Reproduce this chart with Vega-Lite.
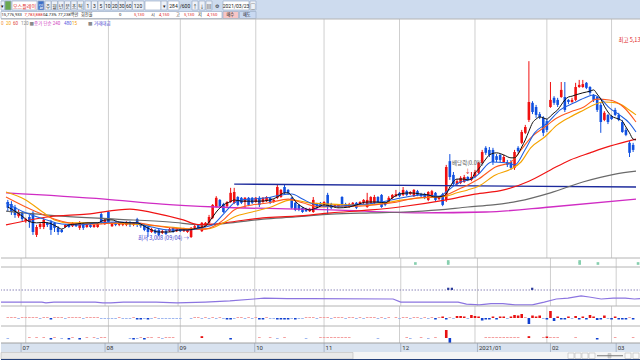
{
"$schema":"https://vega.github.io/schema/vega-lite/v6.json",
"padding":0,"bounds":"flush","spacing":0,"background":"#ffffff",
"config":{"view":{"stroke":null},"text":{"font":"Noto Sans CJK KR"}},
"datasets":{
"months":[{"t":5,"m":"07"},{"t":28,"m":"08"},{"t":48,"m":"09"},{"t":69,"m":"10"},{"t":88,"m":"11"},{"t":109,"m":"12"},{"t":130,"m":"2021/01"},{"t":150,"m":"02"},{"t":168,"m":"03"}],
"candles":[
{"t":0,"o":3440,"h":3465,"l":3320,"c":3370,"a":1,"b":-1},
{"t":1,"o":3415,"h":3450,"l":3285,"c":3320,"a":1,"b":0},
{"t":2,"o":3380,"h":3405,"l":3250,"c":3285,"a":1,"b":0},
{"t":3,"o":3270,"h":3345,"l":3250,"c":3320,"a":-1,"b":0},
{"t":4,"o":3310,"h":3330,"l":3210,"c":3235,"a":1,"b":0},
{"t":5,"o":3210,"h":3250,"l":3190,"c":3235,"a":1,"b":0},
{"t":6,"o":3260,"h":3285,"l":3130,"c":3200,"a":1,"b":1},
{"t":7,"o":3310,"h":3330,"l":3045,"c":3080,"a":1,"b":0},
{"t":8,"o":3045,"h":3165,"l":3020,"c":3140,"a":1,"b":1},
{"t":9,"o":3140,"h":3200,"l":3115,"c":3175,"a":-1,"b":0},
{"t":10,"o":3140,"h":3250,"l":3115,"c":3225,"a":1,"b":1},
{"t":11,"o":3190,"h":3200,"l":3140,"c":3165,"a":1,"b":0},
{"t":12,"o":3200,"h":3225,"l":3045,"c":3105,"a":-1.5,"b":-1.5},
{"t":13,"o":3190,"h":3200,"l":3080,"c":3130,"a":1,"b":1},
{"t":14,"o":3130,"h":3150,"l":3045,"c":3080,"a":1,"b":0},
{"t":15,"o":3105,"h":3115,"l":3070,"c":3080,"a":1,"b":-1},
{"t":16,"o":3140,"h":3175,"l":3130,"c":3165,"a":-1,"b":0},
{"t":17,"o":3165,"h":3175,"l":3130,"c":3140,"a":1,"b":-1.5},
{"t":18,"o":3150,"h":3200,"l":3140,"c":3190,"a":1,"b":1},
{"t":19,"o":3175,"h":3190,"l":3140,"c":3150,"a":1,"b":0},
{"t":20,"o":3130,"h":3210,"l":3105,"c":3190,"a":1,"b":-1.5},
{"t":21,"o":3175,"h":3190,"l":3105,"c":3130,"a":-1,"b":0},
{"t":22,"o":3140,"h":3190,"l":3130,"c":3175,"a":1,"b":1},
{"t":23,"o":3165,"h":3175,"l":3130,"c":3140,"a":1,"b":0},
{"t":24,"o":3140,"h":3175,"l":3130,"c":3165,"a":1,"b":1},
{"t":25,"o":3140,"h":3190,"l":3130,"c":3175,"a":1,"b":-1},
{"t":26,"o":3295,"h":3320,"l":3175,"c":3200,"a":-1,"b":1},
{"t":27,"o":3175,"h":3235,"l":3165,"c":3225,"a":-1,"b":1},
{"t":28,"o":3320,"h":3330,"l":3175,"c":3200,"a":-1,"b":0},
{"t":29,"o":3150,"h":3200,"l":3140,"c":3190,"a":-1,"b":0},
{"t":30,"o":3200,"h":3210,"l":3150,"c":3165,"a":-1,"b":0},
{"t":31,"o":3165,"h":3200,"l":3150,"c":3190,"a":1,"b":0},
{"t":32,"o":3165,"h":3200,"l":3150,"c":3190,"a":-1,"b":0},
{"t":33,"o":3165,"h":3210,"l":3150,"c":3200,"a":-1,"b":0},
{"t":34,"o":3200,"h":3210,"l":3140,"c":3165,"a":-1,"b":-1},
{"t":35,"o":3165,"h":3200,"l":3150,"c":3190,"a":1,"b":-1.5},
{"t":36,"o":3235,"h":3250,"l":3140,"c":3165,"a":-1.5,"b":-1},
{"t":37,"o":3175,"h":3190,"l":3130,"c":3150,"a":-1.5,"b":1},
{"t":38,"o":3165,"h":3175,"l":3090,"c":3105,"a":-1,"b":-1.5},
{"t":39,"o":3140,"h":3150,"l":3020,"c":3080,"a":-1.5,"b":1},
{"t":40,"o":3080,"h":3130,"l":3070,"c":3115,"a":-1,"b":1},
{"t":41,"o":3105,"h":3115,"l":3055,"c":3070,"a":1,"b":0},
{"t":42,"o":3105,"h":3115,"l":3030,"c":3045,"a":-1,"b":1},
{"t":43,"o":3070,"h":3105,"l":3055,"c":3090,"a":-1,"b":-1},
{"t":44,"o":3090,"h":3105,"l":3045,"c":3055,"a":-1,"b":1},
{"t":45,"o":3090,"h":3130,"l":3080,"c":3115,"a":-1,"b":1},
{"t":46,"o":3130,"h":3140,"l":3070,"c":3080,"a":-1,"b":1},
{"t":47,"o":3090,"h":3130,"l":3080,"c":3115,"a":-1,"b":0},
{"t":48,"o":3115,"h":3130,"l":3080,"c":3090,"a":-1,"b":0},
{"t":49,"o":3090,"h":3130,"l":3080,"c":3115,"a":0,"b":0},
{"t":50,"o":3080,"h":3115,"l":3070,"c":3105,"a":0,"b":0},
{"t":51,"o":3020,"h":3140,"l":3008,"c":3130,"a":-1,"b":0},
{"t":52,"o":3130,"h":3165,"l":3115,"c":3150,"a":1,"b":0},
{"t":53,"o":3165,"h":3175,"l":3115,"c":3130,"a":1,"b":0},
{"t":54,"o":3090,"h":3200,"l":3080,"c":3190,"a":-1,"b":1.8},
{"t":55,"o":3150,"h":3200,"l":3140,"c":3190,"a":1,"b":0},
{"t":56,"o":3190,"h":3285,"l":3175,"c":3260,"a":-1,"b":0},
{"t":57,"o":3250,"h":3415,"l":3235,"c":3405,"a":1,"b":0},
{"t":58,"o":3380,"h":3510,"l":3370,"c":3490,"a":-1,"b":0},
{"t":59,"o":3465,"h":3475,"l":3380,"c":3390,"a":1,"b":0},
{"t":60,"o":3415,"h":3430,"l":3310,"c":3320,"a":-1,"b":0},
{"t":61,"o":3390,"h":3450,"l":3370,"c":3440,"a":-1.5,"b":0},
{"t":62,"o":3440,"h":3610,"l":3430,"c":3550,"a":-1.5,"b":-1.5},
{"t":63,"o":3430,"h":3610,"l":3415,"c":3560,"a":-1,"b":0},
{"t":64,"o":3500,"h":3510,"l":3390,"c":3405,"a":1,"b":0},
{"t":65,"o":3490,"h":3500,"l":3415,"c":3430,"a":1,"b":0},
{"t":66,"o":3440,"h":3500,"l":3370,"c":3490,"a":-1,"b":0},
{"t":67,"o":3490,"h":3500,"l":3390,"c":3405,"a":1,"b":0},
{"t":68,"o":3490,"h":3500,"l":3415,"c":3430,"a":-1,"b":0},
{"t":69,"o":3440,"h":3500,"l":3430,"c":3490,"a":1,"b":0},
{"t":70,"o":3490,"h":3510,"l":3380,"c":3405,"a":-1.5,"b":1},
{"t":71,"o":3440,"h":3500,"l":3430,"c":3490,"a":-1.5,"b":0},
{"t":72,"o":3450,"h":3510,"l":3440,"c":3500,"a":1,"b":0},
{"t":73,"o":3490,"h":3500,"l":3415,"c":3430,"a":-1,"b":1},
{"t":74,"o":3440,"h":3475,"l":3430,"c":3465,"a":-1,"b":0},
{"t":75,"o":3490,"h":3645,"l":3475,"c":3620,"a":-1.5,"b":-1},
{"t":76,"o":3500,"h":3595,"l":3490,"c":3585,"a":-1.5,"b":0},
{"t":77,"o":3620,"h":3655,"l":3535,"c":3550,"a":-1.5,"b":1},
{"t":78,"o":3585,"h":3595,"l":3525,"c":3550,"a":-1.5,"b":0},
{"t":79,"o":3490,"h":3500,"l":3355,"c":3370,"a":-1,"b":0},
{"t":80,"o":3430,"h":3440,"l":3330,"c":3345,"a":-1.5,"b":0},
{"t":81,"o":3405,"h":3415,"l":3330,"c":3345,"a":-1,"b":0},
{"t":82,"o":3370,"h":3380,"l":3310,"c":3320,"a":-1,"b":0},
{"t":83,"o":3355,"h":3370,"l":3320,"c":3330,"a":1,"b":-1},
{"t":84,"o":3330,"h":3370,"l":3320,"c":3355,"a":1,"b":0},
{"t":85,"o":3320,"h":3500,"l":3310,"c":3465,"a":1,"b":0},
{"t":86,"o":3415,"h":3430,"l":3355,"c":3370,"a":-1,"b":0},
{"t":87,"o":3430,"h":3440,"l":3380,"c":3390,"a":1,"b":1},
{"t":88,"o":3405,"h":3450,"l":3390,"c":3440,"a":1,"b":1},
{"t":89,"o":3525,"h":3550,"l":3285,"c":3380,"a":1,"b":1},
{"t":90,"o":3415,"h":3430,"l":3355,"c":3370,"a":-1,"b":1},
{"t":91,"o":3380,"h":3415,"l":3370,"c":3405,"a":1,"b":1},
{"t":92,"o":3380,"h":3415,"l":3370,"c":3405,"a":1,"b":1},
{"t":93,"o":3500,"h":3510,"l":3390,"c":3405,"a":1,"b":1},
{"t":94,"o":3415,"h":3430,"l":3370,"c":3380,"a":-1,"b":1},
{"t":95,"o":3380,"h":3430,"l":3370,"c":3415,"a":1,"b":1},
{"t":96,"o":3390,"h":3440,"l":3380,"c":3430,"a":1,"b":0},
{"t":97,"o":3430,"h":3440,"l":3355,"c":3370,"a":-1,"b":0},
{"t":98,"o":3415,"h":3450,"l":3405,"c":3440,"a":1,"b":0},
{"t":99,"o":3430,"h":3475,"l":3415,"c":3465,"a":-1,"b":0},
{"t":100,"o":3380,"h":3550,"l":3370,"c":3465,"a":1,"b":0},
{"t":101,"o":3430,"h":3510,"l":3415,"c":3500,"a":1,"b":0},
{"t":102,"o":3430,"h":3525,"l":3415,"c":3500,"a":1,"b":0},
{"t":103,"o":3500,"h":3510,"l":3430,"c":3440,"a":-1,"b":-1},
{"t":104,"o":3525,"h":3535,"l":3370,"c":3380,"a":1,"b":0},
{"t":105,"o":3430,"h":3440,"l":3390,"c":3405,"a":-1,"b":0},
{"t":106,"o":3440,"h":3510,"l":3430,"c":3490,"a":1,"b":0},
{"t":107,"o":3490,"h":3535,"l":3475,"c":3525,"a":0,"b":0},
{"t":108,"o":3510,"h":3585,"l":3500,"c":3535,"a":1,"b":0},
{"t":109,"o":3550,"h":3560,"l":3500,"c":3510,"a":-1,"b":0},
{"t":110,"o":3525,"h":3620,"l":3510,"c":3585,"a":1,"b":0},
{"t":111,"o":3570,"h":3585,"l":3510,"c":3525,"a":1,"b":1},
{"t":112,"o":3535,"h":3570,"l":3525,"c":3560,"a":-1,"b":-1},
{"t":113,"o":3510,"h":3595,"l":3500,"c":3585,"a":1,"b":0},
{"t":114,"o":3570,"h":3585,"l":3510,"c":3525,"a":1,"b":0},
{"t":115,"o":3535,"h":3550,"l":3500,"c":3510,"a":-1,"b":1},
{"t":116,"o":3535,"h":3550,"l":3475,"c":3490,"a":1,"b":0},
{"t":117,"o":3465,"h":3570,"l":3450,"c":3560,"a":-1,"b":-1},
{"t":118,"o":3500,"h":3585,"l":3490,"c":3570,"a":1,"b":0},
{"t":119,"o":3550,"h":3560,"l":3450,"c":3465,"a":-1.5,"b":1},
{"t":120,"o":3475,"h":3510,"l":3465,"c":3500,"a":1,"b":0},
{"t":121,"o":3535,"h":3550,"l":3390,"c":3405,"a":1.5,"b":0},
{"t":122,"o":3465,"h":3885,"l":3440,"c":3860,"a":-1.5,"b":8},
{"t":123,"o":3930,"h":4015,"l":3705,"c":3740,"a":1,"b":-6},
{"t":124,"o":3765,"h":3800,"l":3630,"c":3655,"a":-1,"b":0},
{"t":125,"o":3655,"h":3715,"l":3645,"c":3690,"a":2,"b":0},
{"t":126,"o":3670,"h":3750,"l":3655,"c":3730,"a":2,"b":0},
{"t":127,"o":3680,"h":3765,"l":3670,"c":3740,"a":1.5,"b":0},
{"t":128,"o":3740,"h":3750,"l":3690,"c":3705,"a":-1,"b":0},
{"t":129,"o":3705,"h":3800,"l":3690,"c":3740,"a":3,"b":0},
{"t":130,"o":3740,"h":3825,"l":3730,"c":3800,"a":2,"b":0},
{"t":131,"o":3790,"h":3920,"l":3775,"c":3910,"a":1.5,"b":0},
{"t":132,"o":3910,"h":4065,"l":3895,"c":4040,"a":-2.5,"b":0},
{"t":133,"o":4090,"h":4110,"l":4005,"c":4030,"a":-1.5,"b":1},
{"t":134,"o":4065,"h":4100,"l":3980,"c":4005,"a":-1.5,"b":1},
{"t":135,"o":4065,"h":4090,"l":3885,"c":3920,"a":1.5,"b":1},
{"t":136,"o":3990,"h":4015,"l":3920,"c":3945,"a":-1.5,"b":1},
{"t":137,"o":4005,"h":4015,"l":3920,"c":3945,"a":1.5,"b":1},
{"t":138,"o":3920,"h":4005,"l":3910,"c":3980,"a":1.5,"b":1},
{"t":139,"o":3920,"h":3945,"l":3860,"c":3885,"a":-1,"b":1},
{"t":140,"o":3920,"h":3945,"l":3825,"c":3850,"a":1.5,"b":1},
{"t":141,"o":3850,"h":4065,"l":3825,"c":4040,"a":3,"b":1},
{"t":142,"o":4090,"h":4110,"l":4030,"c":4050,"a":2.5,"b":1},
{"t":143,"o":4150,"h":4305,"l":4135,"c":4280,"a":4,"b":0},
{"t":144,"o":4270,"h":4365,"l":4255,"c":4340,"a":1,"b":0},
{"t":145,"o":4425,"h":5130,"l":4400,"c":4640,"a":-6,"b":1.8},
{"t":146,"o":4630,"h":4650,"l":4495,"c":4520,"a":2.5,"b":0},
{"t":147,"o":4580,"h":4605,"l":4450,"c":4485,"a":1.5,"b":0},
{"t":148,"o":4495,"h":4520,"l":4435,"c":4460,"a":2.5,"b":0},
{"t":149,"o":4450,"h":4470,"l":4230,"c":4270,"a":-1,"b":1},
{"t":150,"o":4410,"h":4435,"l":4280,"c":4305,"a":-1.5,"b":1.5},
{"t":151,"o":4580,"h":4880,"l":4570,"c":4665,"a":7,"b":1},
{"t":152,"o":4690,"h":4710,"l":4605,"c":4630,"a":-3,"b":1},
{"t":153,"o":4665,"h":4690,"l":4580,"c":4605,"a":1.5,"b":1},
{"t":154,"o":4700,"h":4880,"l":4690,"c":4785,"a":-1.5,"b":0},
{"t":155,"o":4700,"h":4880,"l":4520,"c":4545,"a":-1.5,"b":0},
{"t":156,"o":4665,"h":4675,"l":4615,"c":4640,"a":1.5,"b":0},
{"t":157,"o":4640,"h":4690,"l":4630,"c":4665,"a":-1,"b":0},
{"t":158,"o":4665,"h":4870,"l":4650,"c":4820,"a":2,"b":1},
{"t":159,"o":4820,"h":4905,"l":4810,"c":4845,"a":-1.5,"b":0},
{"t":160,"o":4820,"h":4905,"l":4810,"c":4855,"a":1.5,"b":0},
{"t":161,"o":4870,"h":4880,"l":4795,"c":4810,"a":-1.5,"b":0},
{"t":162,"o":4820,"h":4830,"l":4725,"c":4750,"a":3,"b":0},
{"t":163,"o":4725,"h":4735,"l":4640,"c":4665,"a":1.5,"b":0},
{"t":164,"o":4700,"h":4710,"l":4520,"c":4545,"a":-2,"b":-1.5},
{"t":165,"o":4605,"h":4630,"l":4270,"c":4400,"a":-1.5,"b":0},
{"t":166,"o":4425,"h":4530,"l":4410,"c":4510,"a":2.5,"b":0},
{"t":167,"o":4485,"h":4495,"l":4375,"c":4400,"a":-1,"b":0},
{"t":168,"o":4470,"h":4485,"l":4425,"c":4435,"a":-1.5,"b":0},
{"t":169,"o":4545,"h":4570,"l":4470,"c":4485,"a":1.5,"b":1},
{"t":170,"o":4485,"h":4510,"l":4410,"c":4425,"a":-1.5,"b":0},
{"t":171,"o":4400,"h":4425,"l":4270,"c":4280,"a":-1.5,"b":0},
{"t":172,"o":4305,"h":4330,"l":4230,"c":4245,"a":-1.5,"b":0},
{"t":173,"o":4150,"h":4170,"l":3980,"c":4030,"a":1,"b":0},
{"t":174,"o":4125,"h":4150,"l":4040,"c":4065,"a":-1.5,"b":1}
],
"ma":[
{"s":"trend","t":63,"v":3655},{"s":"trend","t":174.8,"v":3620},
{"s":"m480","t":-0.5,"v":3550},{"s":"m480","t":27,"v":3475},{"s":"m480","t":43,"v":3415},{"s":"m480","t":58,"v":3380},{"s":"m480","t":90,"v":3345},{"s":"m480","t":115,"v":3310},{"s":"m480","t":133,"v":3320},{"s":"m480","t":151,"v":3380},{"s":"m480","t":174.8,"v":3475},
{"s":"m240","t":-0.5,"v":3330},{"s":"m240","t":15,"v":3270},{"s":"m240","t":30,"v":3235},{"s":"m240","t":45,"v":3200},{"s":"m240","t":55,"v":3165},{"s":"m240","t":62,"v":3190},{"s":"m240","t":71,"v":3235},{"s":"m240","t":80,"v":3260},{"s":"m240","t":90,"v":3295},{"s":"m240","t":101,"v":3310},{"s":"m240","t":110,"v":3320},{"s":"m240","t":120,"v":3345},{"s":"m240","t":128,"v":3380},{"s":"m240","t":135,"v":3405},{"s":"m240","t":142,"v":3450},{"s":"m240","t":151,"v":3550},{"s":"m240","t":160,"v":3680},{"s":"m240","t":169,"v":3775},{"s":"m240","t":174.8,"v":3810},
{"s":"m120","t":-0.5,"v":3165},{"s":"m120","t":11,"v":3260},{"s":"m120","t":22,"v":3295},{"s":"m120","t":34,"v":3355},{"s":"m120","t":40.6,"v":3310},{"s":"m120","t":48.8,"v":3225},{"s":"m120","t":53,"v":3170},{"s":"m120","t":57,"v":3175},{"s":"m120","t":62,"v":3200},{"s":"m120","t":71,"v":3250},{"s":"m120","t":80,"v":3270},{"s":"m120","t":90,"v":3310},{"s":"m120","t":101,"v":3345},{"s":"m120","t":109,"v":3380},{"s":"m120","t":122,"v":3465},{"s":"m120","t":130,"v":3535},{"s":"m120","t":138,"v":3585},{"s":"m120","t":145,"v":3690},{"s":"m120","t":151,"v":3825},{"s":"m120","t":156.5,"v":3945},{"s":"m120","t":162,"v":4030},{"s":"m120","t":167.5,"v":4110},{"s":"m120","t":174.8,"v":4195},
{"s":"m60","t":-0.5,"v":3560},{"s":"m60","t":5,"v":3465},{"s":"m60","t":10,"v":3310},{"s":"m60","t":13,"v":3225},{"s":"m60","t":17,"v":3190},{"s":"m60","t":25,"v":3190},{"s":"m60","t":35,"v":3175},{"s":"m60","t":45,"v":3140},{"s":"m60","t":52,"v":3115},{"s":"m60","t":56,"v":3120},{"s":"m60","t":60,"v":3190},{"s":"m60","t":63,"v":3260},{"s":"m60","t":68,"v":3320},{"s":"m60","t":72.6,"v":3370},{"s":"m60","t":79,"v":3465},{"s":"m60","t":84,"v":3430},{"s":"m60","t":90,"v":3415},{"s":"m60","t":95,"v":3405},{"s":"m60","t":100,"v":3405},{"s":"m60","t":105,"v":3430},{"s":"m60","t":110,"v":3465},{"s":"m60","t":115,"v":3490},{"s":"m60","t":120,"v":3500},{"s":"m60","t":122,"v":3510},{"s":"m60","t":125,"v":3550},{"s":"m60","t":128,"v":3585},{"s":"m60","t":131,"v":3630},{"s":"m60","t":135.7,"v":3765},{"s":"m60","t":140,"v":3835},{"s":"m60","t":142.8,"v":3920},{"s":"m60","t":145.5,"v":4090},{"s":"m60","t":149.4,"v":4220},{"s":"m60","t":152.9,"v":4365},{"s":"m60","t":156.5,"v":4460},{"s":"m60","t":160.3,"v":4545},{"s":"m60","t":163,"v":4605},{"s":"m60","t":165.8,"v":4640},{"s":"m60","t":169.4,"v":4630},{"s":"m60","t":172.9,"v":4545},{"s":"m60","t":174.8,"v":4485},
{"s":"m20","t":-0.5,"v":3500},{"s":"m20","t":5,"v":3380},{"s":"m20","t":10,"v":3285},{"s":"m20","t":15,"v":3210},{"s":"m20","t":20,"v":3175},{"s":"m20","t":25,"v":3175},{"s":"m20","t":30,"v":3190},{"s":"m20","t":35,"v":3190},{"s":"m20","t":40,"v":3165},{"s":"m20","t":45,"v":3130},{"s":"m20","t":50,"v":3115},{"s":"m20","t":55,"v":3115},{"s":"m20","t":58,"v":3165},{"s":"m20","t":60,"v":3225},{"s":"m20","t":63,"v":3345},{"s":"m20","t":68,"v":3405},{"s":"m20","t":72.6,"v":3430},{"s":"m20","t":78,"v":3475},{"s":"m20","t":82,"v":3430},{"s":"m20","t":87,"v":3380},{"s":"m20","t":92,"v":3390},{"s":"m20","t":97,"v":3390},{"s":"m20","t":102,"v":3405},{"s":"m20","t":107,"v":3430},{"s":"m20","t":112,"v":3475},{"s":"m20","t":117,"v":3500},{"s":"m20","t":120,"v":3500},{"s":"m20","t":122,"v":3525},{"s":"m20","t":125,"v":3585},{"s":"m20","t":128,"v":3645},{"s":"m20","t":131,"v":3715},{"s":"m20","t":135.7,"v":3860},{"s":"m20","t":140,"v":3920},{"s":"m20","t":142.8,"v":4065},{"s":"m20","t":145.5,"v":4210},{"s":"m20","t":149.4,"v":4340},{"s":"m20","t":152.9,"v":4450},{"s":"m20","t":156.5,"v":4520},{"s":"m20","t":160.3,"v":4580},{"s":"m20","t":163.9,"v":4675},{"s":"m20","t":167.4,"v":4665},{"s":"m20","t":171.3,"v":4580},{"s":"m20","t":174.8,"v":4400},
{"s":"m10","t":-0.5,"v":3430},{"s":"m10","t":5,"v":3310},{"s":"m10","t":10,"v":3235},{"s":"m10","t":15,"v":3175},{"s":"m10","t":20,"v":3165},{"s":"m10","t":25,"v":3190},{"s":"m10","t":30,"v":3200},{"s":"m10","t":35,"v":3190},{"s":"m10","t":40,"v":3140},{"s":"m10","t":45,"v":3105},{"s":"m10","t":50,"v":3105},{"s":"m10","t":55,"v":3140},{"s":"m10","t":57,"v":3165},{"s":"m10","t":60,"v":3295},{"s":"m10","t":63,"v":3430},{"s":"m10","t":65,"v":3465},{"s":"m10","t":68,"v":3475},{"s":"m10","t":72,"v":3490},{"s":"m10","t":76,"v":3525},{"s":"m10","t":79,"v":3535},{"s":"m10","t":82,"v":3475},{"s":"m10","t":85,"v":3415},{"s":"m10","t":88,"v":3390},{"s":"m10","t":92,"v":3390},{"s":"m10","t":96,"v":3405},{"s":"m10","t":100,"v":3415},{"s":"m10","t":104,"v":3440},{"s":"m10","t":108,"v":3475},{"s":"m10","t":112,"v":3510},{"s":"m10","t":116,"v":3525},{"s":"m10","t":120,"v":3510},{"s":"m10","t":122,"v":3560},{"s":"m10","t":124,"v":3630},{"s":"m10","t":126,"v":3680},{"s":"m10","t":128,"v":3705},{"s":"m10","t":130,"v":3740},{"s":"m10","t":131,"v":3775},{"s":"m10","t":134.6,"v":3920},{"s":"m10","t":138.4,"v":3910},{"s":"m10","t":141.1,"v":3885},{"s":"m10","t":143.9,"v":4065},{"s":"m10","t":146.6,"v":4270},{"s":"m10","t":150.2,"v":4390},{"s":"m10","t":153.7,"v":4545},{"s":"m10","t":157.6,"v":4630},{"s":"m10","t":161.1,"v":4700},{"s":"m10","t":163,"v":4725},{"s":"m10","t":164.7,"v":4690},{"s":"m10","t":167.4,"v":4570},{"s":"m10","t":170.2,"v":4485},{"s":"m10","t":172.9,"v":4390},{"s":"m10","t":174.8,"v":4280},
{"s":"m5","t":0,"v":3380},{"s":"m5","t":2,"v":3330},{"s":"m5","t":4,"v":3270},{"s":"m5","t":6,"v":3205},{"s":"m5","t":8,"v":3190},{"s":"m5","t":10,"v":3195},{"s":"m5","t":12,"v":3180},{"s":"m5","t":14,"v":3135},{"s":"m5","t":15,"v":3115},{"s":"m5","t":17,"v":3165},{"s":"m5","t":19,"v":3175},{"s":"m5","t":22,"v":3190},{"s":"m5","t":25,"v":3190},{"s":"m5","t":27,"v":3225},{"s":"m5","t":29,"v":3225},{"s":"m5","t":31,"v":3200},{"s":"m5","t":34,"v":3190},{"s":"m5","t":36,"v":3190},{"s":"m5","t":38,"v":3150},{"s":"m5","t":40,"v":3105},{"s":"m5","t":42,"v":3080},{"s":"m5","t":45,"v":3080},{"s":"m5","t":48,"v":3105},{"s":"m5","t":50,"v":3105},{"s":"m5","t":53,"v":3130},{"s":"m5","t":55,"v":3150},{"s":"m5","t":56,"v":3200},{"s":"m5","t":58,"v":3320},{"s":"m5","t":60,"v":3405},{"s":"m5","t":62,"v":3445},{"s":"m5","t":63,"v":3465},{"s":"m5","t":65,"v":3450},{"s":"m5","t":67,"v":3450},{"s":"m5","t":70,"v":3450},{"s":"m5","t":73,"v":3465},{"s":"m5","t":75,"v":3500},{"s":"m5","t":77,"v":3550},{"s":"m5","t":78,"v":3550},{"s":"m5","t":79,"v":3510},{"s":"m5","t":80,"v":3450},{"s":"m5","t":82,"v":3380},{"s":"m5","t":84,"v":3345},{"s":"m5","t":86,"v":3370},{"s":"m5","t":88,"v":3405},{"s":"m5","t":90,"v":3390},{"s":"m5","t":92,"v":3370},{"s":"m5","t":95,"v":3380},{"s":"m5","t":97,"v":3405},{"s":"m5","t":100,"v":3440},{"s":"m5","t":103,"v":3440},{"s":"m5","t":105,"v":3430},{"s":"m5","t":107,"v":3490},{"s":"m5","t":109,"v":3535},{"s":"m5","t":112,"v":3550},{"s":"m5","t":115,"v":3535},{"s":"m5","t":117,"v":3525},{"s":"m5","t":119,"v":3500},{"s":"m5","t":121,"v":3510},{"s":"m5","t":122,"v":3535},{"s":"m5","t":123,"v":3620},{"s":"m5","t":125,"v":3715},{"s":"m5","t":127,"v":3715},{"s":"m5","t":128,"v":3705},{"s":"m5","t":129,"v":3715},{"s":"m5","t":130,"v":3790},{"s":"m5","t":131,"v":3835},{"s":"m5","t":132,"v":3895},{"s":"m5","t":133,"v":3955},{"s":"m5","t":134,"v":4005},{"s":"m5","t":136,"v":4030},{"s":"m5","t":138,"v":4005},{"s":"m5","t":140,"v":3970},{"s":"m5","t":141,"v":3970},{"s":"m5","t":142,"v":4015},{"s":"m5","t":143,"v":4100},{"s":"m5","t":144,"v":4185},{"s":"m5","t":145,"v":4290},{"s":"m5","t":146,"v":4390},{"s":"m5","t":147,"v":4435},{"s":"m5","t":148,"v":4460},{"s":"m5","t":149,"v":4450},{"s":"m5","t":150,"v":4435},{"s":"m5","t":151,"v":4470},{"s":"m5","t":152,"v":4510},{"s":"m5","t":153,"v":4545},{"s":"m5","t":154,"v":4605},{"s":"m5","t":155,"v":4665},{"s":"m5","t":156,"v":4700},{"s":"m5","t":157,"v":4710},{"s":"m5","t":158,"v":4725},{"s":"m5","t":160,"v":4750},{"s":"m5","t":162,"v":4770},{"s":"m5","t":163,"v":4785},{"s":"m5","t":164,"v":4735},{"s":"m5","t":165,"v":4675},{"s":"m5","t":166,"v":4590},{"s":"m5","t":167,"v":4520},{"s":"m5","t":168,"v":4470},{"s":"m5","t":169,"v":4450},{"s":"m5","t":170,"v":4435},{"s":"m5","t":171,"v":4410},{"s":"m5","t":172,"v":4340},{"s":"m5","t":173,"v":4270},{"s":"m5","t":174,"v":4195},{"s":"m5","t":174.8,"v":4185}
],
"osc":[{"t":-0.5,"v":10},{"t":10.7,"v":10},{"t":11.8,"v":8},{"t":14,"v":10},{"t":19.5,"v":10},{"t":25.3,"v":10},{"t":27.4,"v":8},{"t":29.6,"v":8},{"t":33,"v":10},{"t":42,"v":10},{"t":47.7,"v":8},{"t":55.4,"v":10},{"t":62.2,"v":13},{"t":68.8,"v":18},{"t":71.6,"v":20},{"t":77.9,"v":19},{"t":84.4,"v":19},{"t":106.9,"v":18},{"t":109,"v":10},{"t":120.3,"v":10},{"t":124.7,"v":10},{"t":127,"v":5},{"t":130.5,"v":3},{"t":133.7,"v":6},{"t":137,"v":6},{"t":140.3,"v":3},{"t":145,"v":3},{"t":148.3,"v":10},{"t":151.6,"v":18},{"t":154.8,"v":20},{"t":158.4,"v":26},{"t":160.6,"v":23},{"t":163.9,"v":18},{"t":167.2,"v":20},{"t":170.5,"v":20},{"t":173,"v":18},{"t":174.8,"v":19}]
},
"vconcat":[
{
"width":640,"height":19,"view":{"fill":"#cddbee","stroke":null},
"layer":[
{"data":{"values":[
{"c0":0,"c1":3.5,"r0":1,"r1":10,"k":"btn"},{"c0":4,"c1":10,"r0":1,"r1":10,"k":"icon"},{"c0":11,"c1":36,"r0":1,"r1":10,"k":"field"},{"c0":37,"c1":43,"r0":1,"r1":10,"k":"sel"},
{"c0":44,"c1":50,"r0":1,"r1":10,"k":"btn"},{"c0":50.5,"c1":56.5,"r0":1,"r1":10,"k":"btn"},{"c0":57,"c1":63,"r0":1,"r1":10,"k":"btn"},{"c0":63.5,"c1":69.5,"r0":1,"r1":10,"k":"btn"},{"c0":70,"c1":76,"r0":1,"r1":10,"k":"btn"},{"c0":76.5,"c1":82.5,"r0":1,"r1":10,"k":"btn"},
{"c0":84,"c1":90,"r0":1,"r1":10,"k":"btn"},{"c0":90.5,"c1":96.5,"r0":1,"r1":10,"k":"btn"},{"c0":97,"c1":103,"r0":1,"r1":10,"k":"btn"},{"c0":103.5,"c1":110,"r0":1,"r1":10,"k":"btn"},{"c0":110.5,"c1":117,"r0":1,"r1":10,"k":"btn"},{"c0":117.5,"c1":124,"r0":1,"r1":10,"k":"btn"},{"c0":124.5,"c1":131,"r0":1,"r1":10,"k":"btn"},{"c0":131.5,"c1":143,"r0":1,"r1":10,"k":"btn"},
{"c0":144,"c1":160,"r0":1,"r1":10,"k":"field"},{"c0":160,"c1":166,"r0":1,"r1":10,"k":"btn"},{"c0":167,"c1":178,"r0":1,"r1":10,"k":"field"},
{"c0":191,"c1":197,"r0":1,"r1":10,"k":"btn"},{"c0":198,"c1":204,"r0":1,"r1":10,"k":"btn"},{"c0":205,"c1":211,"r0":1,"r1":10,"k":"btn"},
{"c0":222,"c1":248,"r0":1,"r1":10,"k":"field"},{"c0":249,"c1":255,"r0":1,"r1":10,"k":"btn"},
{"c0":0,"c1":221,"r0":11.5,"r1":18.5,"k":"field"},{"c0":222,"c1":237.5,"r0":11.5,"r1":18.5,"k":"buy"},{"c0":238.5,"c1":255,"r0":11.5,"r1":18.5,"k":"sell"}
]},
"mark":{"type":"rect","stroke":"#9fb0c8","strokeWidth":0.7},
"encoding":{
"x":{"field":"c0","type":"quantitative","scale":{"domain":[0,640],"nice":false,"zero":false},"axis":null},
"x2":{"field":"c1"},
"y":{"field":"r0","type":"quantitative","scale":{"domain":[0,19],"nice":false,"zero":false,"reverse":true},"axis":null},
"y2":{"field":"r1"},
"fill":{"field":"k","type":"nominal","scale":{"domain":["btn","icon","field","sel","buy","sell"],"range":["#eef2f8","#6aa84f","#ffffff","#3d6fc8","#f7c6c6","#c9d9f2"]},"legend":null}
}},
{"data":{"values":[
{"c":1.8,"r":5.5,"tx":"▾","tone":"k"},{"c":23.5,"r":5.5,"tx":"오스틀레이","tone":"r"},{"c":40,"r":5.5,"tx":"일","tone":"w"},
{"c":47,"r":5.5,"tx":"주","tone":"k"},{"c":53.5,"r":5.5,"tx":"월","tone":"k"},{"c":60,"r":5.5,"tx":"년","tone":"k"},{"c":66.5,"r":5.5,"tx":"분","tone":"k"},{"c":73,"r":5.5,"tx":"초","tone":"k"},{"c":79.5,"r":5.5,"tx":"틱","tone":"k"},
{"c":87,"r":5.5,"tx":"1","tone":"k"},{"c":93.5,"r":5.5,"tx":"3","tone":"k"},{"c":100,"r":5.5,"tx":"5","tone":"k"},{"c":106.7,"r":5.5,"tx":"10","tone":"k"},{"c":113.7,"r":5.5,"tx":"20","tone":"k"},{"c":120.7,"r":5.5,"tx":"30","tone":"k"},{"c":127.7,"r":5.5,"tx":"60","tone":"k"},{"c":137,"r":5.5,"tx":"120","tone":"k"},
{"c":163,"r":5.5,"tx":"▾","tone":"k"},{"c":172.5,"r":5.5,"tx":"284","tone":"k"},{"c":184,"r":5.5,"tx":"/600","tone":"k"},
{"c":194,"r":5.5,"tx":"↑","tone":"k"},{"c":201,"r":5.5,"tx":"↓","tone":"k"},{"c":208,"r":5.5,"tx":"▤","tone":"k"},{"c":216,"r":5.5,"tx":"⚙","tone":"k"},
{"c":235,"r":5.5,"tx":"2021/03/23","tone":"k"},{"c":252,"r":5.5,"tx":"▢","tone":"k"}
]},
"mark":{"type":"text","fontSize":5,"baseline":"middle","align":"center","font":"Roboto, Noto Sans CJK KR"},
"encoding":{
"x":{"field":"c","type":"quantitative","scale":{"domain":[0,640],"nice":false,"zero":false},"axis":null},
"y":{"field":"r","type":"quantitative","scale":{"domain":[0,19],"nice":false,"zero":false,"reverse":true},"axis":null},
"text":{"field":"tx"},
"color":{"field":"tone","type":"nominal","scale":{"domain":["k","r","w"],"range":["#1a1a1a","#e01e1e","#ffffff"]},"legend":null}
}},
{"data":{"values":[
{"c":0.5,"r":15,"tx":"15,776,933","tone":"k"},{"c":23.5,"r":15,"tx":"7,783,888","tone":"r"},{"c":42,"r":15,"tx":"04.73%","tone":"k"},{"c":57,"r":15,"tx":"77,238백만","tone":"k"},{"c":80,"r":15,"tx":"회전율","tone":"k"},
{"c":118,"r":15,"tx":"0","tone":"k"},{"c":133,"r":15,"tx":"5,130","tone":"r"},{"c":150,"r":15,"tx":"시","tone":"k"},{"c":158,"r":15,"tx":"4,150","tone":"r"},{"c":175,"r":15,"tx":"고","tone":"k"},{"c":183,"r":15,"tx":"5,130","tone":"r"},{"c":197,"r":15,"tx":"저","tone":"k"},{"c":206,"r":15,"tx":"4,150","tone":"r"},
{"c":225.5,"r":15,"tx":"매수","tone":"k"},{"c":242,"r":15,"tx":"매도","tone":"k"}
]},
"mark":{"type":"text","fontSize":4.2,"baseline":"middle","align":"left","font":"Roboto, Noto Sans CJK KR"},
"encoding":{
"x":{"field":"c","type":"quantitative","scale":{"domain":[0,640],"nice":false,"zero":false},"axis":null},
"y":{"field":"r","type":"quantitative","scale":{"domain":[0,19],"nice":false,"zero":false,"reverse":true},"axis":null},
"text":{"field":"tx"},
"color":{"field":"tone","type":"nominal","scale":{"domain":["k","r","w"],"range":["#1a1a1a","#e01e1e","#ffffff"]},"legend":null}
}}
],
"resolve":{"scale":{"fill":"independent","color":"independent"}}
},
{
"width":640,"height":239,
"layer":[
{"layer":[
{"data":{"name":"months"},"mark":{"type":"rule","color":"#cfcfcf","strokeWidth":1},"encoding":{"x":{"field":"t","type":"quantitative","scale":{"domain":[-0.5,174.8],"nice":false,"zero":false},"axis":null}}},
{"data":{"values":[{"p":5636}]},"mark":{"type":"rule","color":"#b4b4b4"},"encoding":{"y":{"field":"p","type":"quantitative","scale":{"domain":[2768,5636],"nice":false,"zero":false},"axis":null}}},
{"data":{"name":"candles"},"mark":{"type":"rule","strokeWidth":1,"clip":true},"encoding":{
"x":{"field":"t","type":"quantitative","scale":{"domain":[-0.5,174.8],"nice":false,"zero":false},"axis":null},
"y":{"field":"l","type":"quantitative","scale":{"domain":[2768,5636],"nice":false,"zero":false},"axis":null},
"y2":{"field":"h"},
"color":{"condition":{"test":"datum.c >= datum.o","value":"#f01010"},"value":"#1050e0"}}},
{"data":{"name":"candles"},"mark":{"type":"bar","width":2.6,"clip":true},"encoding":{
"x":{"field":"t","type":"quantitative","scale":{"domain":[-0.5,174.8],"nice":false,"zero":false},"axis":null},
"y":{"field":"o","type":"quantitative","scale":{"domain":[2768,5636],"nice":false,"zero":false},"axis":null},
"y2":{"field":"c"},
"color":{"condition":{"test":"datum.c >= datum.o","value":"#f01010"},"value":"#1050e0"}}},
{"data":{"name":"ma"},"mark":{"type":"line","interpolate":"monotone","clip":true},"encoding":{
"x":{"field":"t","type":"quantitative","scale":{"domain":[-0.5,174.8],"nice":false,"zero":false},"axis":null},
"y":{"field":"v","type":"quantitative","scale":{"domain":[2768,5636],"nice":false,"zero":false},"axis":null},
"color":{"field":"s","type":"nominal","scale":{"domain":["trend","m480","m240","m120","m60","m20","m10","m5"],"range":["#1c2a9c","#d02cc4","#6a6a6a","#f01414","#f5a300","#ff5a1e","#1f5fe0","#111111"]},"legend":null},
"strokeWidth":{"field":"s","type":"ordinal","scale":{"domain":["trend","m480","m240","m120","m60","m20","m10","m5"],"range":[1.3,1,1,2.2,1.6,1.2,1,1.6]},"legend":null}}},
{"data":{"values":[{"t":128,"p":3910,"txt":"배당락(0.0%)"}]},"mark":{"type":"text","fontSize":5.5,"color":"#555555","align":"center","baseline":"middle"},"encoding":{
"x":{"field":"t","type":"quantitative","scale":{"domain":[-0.5,174.8],"nice":false,"zero":false},"axis":null},
"y":{"field":"p","type":"quantitative","scale":{"domain":[2768,5636],"nice":false,"zero":false},"axis":null},"text":{"field":"txt"}}},
{"data":{"values":[{"t":128,"p":3815,"txt":"↓"}]},"mark":{"type":"text","fontSize":6,"color":"#e02020","align":"center","baseline":"middle"},"encoding":{
"x":{"field":"t","type":"quantitative","scale":{"domain":[-0.5,174.8],"nice":false,"zero":false},"axis":null},
"y":{"field":"p","type":"quantitative","scale":{"domain":[2768,5636],"nice":false,"zero":false},"axis":null},"text":{"field":"txt"}}},
{"data":{"values":[{"t":51,"p":3008,"txt":"최저 3,008 (09/04) →"}]},"mark":{"type":"text","fontSize":5.5,"color":"#3a3ad0","align":"right","baseline":"middle","dx":-2},"encoding":{
"x":{"field":"t","type":"quantitative","scale":{"domain":[-0.5,174.8],"nice":false,"zero":false},"axis":null},
"y":{"field":"p","type":"quantitative","scale":{"domain":[2768,5636],"nice":false,"zero":false},"axis":null},"text":{"field":"txt"}}},
{"data":{"values":[{"t":169.9,"p":5384,"txt":"최고 5,130"}]},"mark":{"type":"text","fontSize":5.5,"color":"#e02020","align":"left","baseline":"middle","clip":true},"encoding":{
"x":{"field":"t","type":"quantitative","scale":{"domain":[-0.5,174.8],"nice":false,"zero":false},"axis":null},
"y":{"field":"p","type":"quantitative","scale":{"domain":[2768,5636],"nice":false,"zero":false},"axis":null},"text":{"field":"txt"}}}
]},
{"data":{"values":[
{"col":0,"row":4.5,"tx":"0","tone":"c1"},{"col":5,"row":4.5,"tx":"20","tone":"c2"},{"col":12,"row":4.5,"tx":"60","tone":"c3"},{"col":20,"row":4.5,"tx":"120","tone":"c4"},{"col":28.5,"row":4.5,"tx":"■","tone":"c4"},
{"col":33,"row":4.5,"tx":"종가 단순 240","tone":"c5"},{"col":63,"row":4.5,"tx":"480","tone":"c6"},{"col":71,"row":4.5,"tx":"15","tone":"c2"},{"col":87,"row":4.5,"tx":"■","tone":"c4"},{"col":93,"row":4.5,"tx":"거래대금","tone":"c7"}
]},
"mark":{"type":"text","fontSize":4.5,"align":"left","baseline":"middle","font":"Roboto, Noto Sans CJK KR"},
"encoding":{
"x":{"field":"col","type":"quantitative","scale":{"domain":[0,640],"nice":false,"zero":false},"axis":null},
"y":{"field":"row","type":"quantitative","scale":{"domain":[0,239],"nice":false,"zero":false,"reverse":true},"axis":null},
"text":{"field":"tx"},
"color":{"field":"tone","type":"nominal","scale":{"domain":["c1","c2","c3","c4","c5","c6","c7"],"range":["#f08c3c","#f5a000","#e03c3c","#8a8a8a","#d040c0","#5a5ae0","#3c3cd0"]},"legend":null}
}}
],
"resolve":{"scale":{"x":"independent","y":"independent","color":"independent"}}
},
{
"width":640,"height":9,
"layer":[
{"data":{"name":"months"},"mark":{"type":"rule","color":"#cfcfcf"},"encoding":{"x":{"field":"t","type":"quantitative","scale":{"domain":[-0.5,174.8],"nice":false,"zero":false},"axis":null}}},
{"data":{"values":[{"v":9}]},"mark":{"type":"rule","color":"#b4b4b4"},"encoding":{"y":{"field":"v","type":"quantitative","scale":{"domain":[0,9],"nice":false,"zero":false},"axis":null}}},
{"data":{"values":[{"t":113,"v":3.5},{"t":122,"v":3.5},{"t":122,"v":5.5},{"t":158,"v":3.5},{"t":158,"v":5.5},{"t":163,"v":3.5},{"t":174,"v":3.5}]},"mark":{"type":"point","shape":"square","filled":true,"size":7,"color":"#86cfae","opacity":1},"encoding":{
"x":{"field":"t","type":"quantitative","scale":{"domain":[-0.5,174.8],"nice":false,"zero":false},"axis":null},
"y":{"field":"v","type":"quantitative","scale":{"domain":[0,9],"nice":false,"zero":false},"axis":null}}}
]
},
{
"width":640,"height":39,
"layer":[
{"data":{"name":"months"},"mark":{"type":"rule","color":"#cfcfcf"},"encoding":{"x":{"field":"t","type":"quantitative","scale":{"domain":[-0.5,174.8],"nice":false,"zero":false},"axis":null}}},
{"data":{"values":[{"v":100}]},"mark":{"type":"rule","color":"#b4b4b4"},"encoding":{"y":{"field":"v","type":"quantitative","scale":{"domain":[0,100],"nice":false,"zero":false},"axis":null}}},
{"data":{"values":[{"v":41}]},"mark":{"type":"rule","color":"#8a84b8","strokeDash":[1.5,1.5]},"encoding":{"y":{"field":"v","type":"quantitative","scale":{"domain":[0,100],"nice":false,"zero":false},"axis":null}}},
{"data":{"name":"osc"},"mark":{"type":"line","color":"#8b74e0","strokeWidth":1.2,"clip":true},"encoding":{
"x":{"field":"t","type":"quantitative","scale":{"domain":[-0.5,174.8],"nice":false,"zero":false},"axis":null},
"y":{"field":"v","type":"quantitative","scale":{"domain":[0,100],"nice":false,"zero":false},"axis":null}}},
{"data":{"values":[{"t":122,"v":44},{"t":123,"v":44},{"t":145,"v":44}]},"mark":{"type":"point","shape":"square","filled":true,"size":5,"color":"#2a3a9a","opacity":1},"encoding":{
"x":{"field":"t","type":"quantitative","scale":{"domain":[-0.5,174.8],"nice":false,"zero":false},"axis":null},
"y":{"field":"v","type":"quantitative","scale":{"domain":[0,100],"nice":false,"zero":false},"axis":null}}}
]
},
{
"width":640,"height":20,
"layer":[
{"data":{"name":"months"},"mark":{"type":"rule","color":"#cfcfcf"},"encoding":{"x":{"field":"t","type":"quantitative","scale":{"domain":[-0.5,174.8],"nice":false,"zero":false},"axis":null}}},
{"data":{"values":[{"v":12}]},"mark":{"type":"rule","color":"#b4b4b4"},"encoding":{"y":{"field":"v","type":"quantitative","scale":{"domain":[-8,12],"nice":false,"zero":false},"axis":null}}},
{"data":{"name":"candles"},"mark":{"type":"bar","width":2.6,"clip":true},"encoding":{
"x":{"field":"t","type":"quantitative","scale":{"domain":[-0.5,174.8],"nice":false,"zero":false},"axis":null},
"y":{"field":"a","type":"quantitative","scale":{"domain":[-8,12],"nice":false,"zero":false},"axis":null},
"color":{"condition":[{"test":"datum.a >= 1.4","value":"#e81010"},{"test":"datum.a > 0","value":"#f4a0a0"},{"test":"datum.a <= -1.4","value":"#1040d0"}],"value":"#a0b8f0"}}}
]
},
{
"width":640,"height":17,
"layer":[
{"data":{"name":"months"},"mark":{"type":"rule","color":"#cfcfcf"},"encoding":{"x":{"field":"t","type":"quantitative","scale":{"domain":[-0.5,174.8],"nice":false,"zero":false},"axis":null}}},
{"data":{"values":[{"v":12}]},"mark":{"type":"rule","color":"#b4b4b4"},"encoding":{"y":{"field":"v","type":"quantitative","scale":{"domain":[-5,12],"nice":false,"zero":false},"axis":null}}},
{"data":{"name":"candles"},"mark":{"type":"bar","width":2.6,"clip":true},"encoding":{
"x":{"field":"t","type":"quantitative","scale":{"domain":[-0.5,174.8],"nice":false,"zero":false},"axis":null},
"y":{"field":"b","type":"quantitative","scale":{"domain":[-5,12],"nice":false,"zero":false},"axis":null},
"color":{"condition":[{"test":"datum.b >= 1.4","value":"#e81010"},{"test":"datum.b > 0","value":"#f4a0a0"},{"test":"datum.b <= -1.4","value":"#1040d0"}],"value":"#a0b8f0"}}}
]
},
{
"width":640,"height":9,"view":{"fill":"#d8e2ef","stroke":null},
"layer":[
{"data":{"name":"months"},"mark":{"type":"rule","color":"#aab6c8"},"encoding":{"x":{"field":"t","type":"quantitative","scale":{"domain":[-0.5,174.8],"nice":false,"zero":false},"axis":null}}},
{"data":{"values":[{"v":9}]},"mark":{"type":"rule","color":"#a0a0a0"},"encoding":{"y":{"field":"v","type":"quantitative","scale":{"domain":[0,9],"nice":false,"zero":false},"axis":null}}},
{"data":{"name":"months"},"mark":{"type":"text","fontSize":6,"color":"#333333","align":"left","baseline":"middle","dx":1.5,"font":"Roboto"},"encoding":{
"x":{"field":"t","type":"quantitative","scale":{"domain":[-0.5,174.8],"nice":false,"zero":false},"axis":null},
"y":{"datum":4.5,"type":"quantitative","scale":{"domain":[0,9],"nice":false,"zero":false},"axis":null},
"text":{"field":"m"}}}
]
},
{
"width":640,"height":8,"view":{"fill":"#f5f5f5","stroke":null},
"layer":[
{"data":{"values":[
{"c0":0,"c1":352,"r0":0.5,"r1":7,"k":"track"},
{"c0":567,"c1":573,"r0":1,"r1":6.5,"k":"btn"},{"c0":574,"c1":580,"r0":1,"r1":6.5,"k":"btn"},{"c0":581,"c1":587,"r0":1,"r1":6.5,"k":"btn"},{"c0":588,"c1":594,"r0":1,"r1":6.5,"k":"btn"},
{"c0":607,"c1":610,"r0":1.5,"r1":6,"k":"knob"},
{"c0":624,"c1":630,"r0":1,"r1":6.5,"k":"btn"},{"c0":632,"c1":638,"r0":1,"r1":6.5,"k":"btn"}
]},
"mark":{"type":"rect","stroke":"#b8b8b8","strokeWidth":0.6},
"encoding":{
"x":{"field":"c0","type":"quantitative","scale":{"domain":[0,640],"nice":false,"zero":false},"axis":null},
"x2":{"field":"c1"},
"y":{"field":"r0","type":"quantitative","scale":{"domain":[0,8],"nice":false,"zero":false,"reverse":true},"axis":null},
"y2":{"field":"r1"},
"fill":{"field":"k","type":"nominal","scale":{"domain":["track","btn","knob"],"range":["#e9e9e9","#fafafa","#d0d0d0"]},"legend":null}
}},
{"data":{"values":[{"c0":596,"c1":622,"r":3.75}]},"mark":{"type":"rule","color":"#777777"},"encoding":{
"x":{"field":"c0","type":"quantitative","scale":{"domain":[0,640],"nice":false,"zero":false},"axis":null},
"x2":{"field":"c1"},
"y":{"field":"r","type":"quantitative","scale":{"domain":[0,8],"nice":false,"zero":false,"reverse":true},"axis":null}}},
{"data":{"values":[{"c0":0,"c1":640,"r":7.5}]},"mark":{"type":"rule","color":"#24407a","strokeWidth":1.2},"encoding":{
"x":{"field":"c0","type":"quantitative","scale":{"domain":[0,640],"nice":false,"zero":false},"axis":null},
"x2":{"field":"c1"},
"y":{"field":"r","type":"quantitative","scale":{"domain":[0,8],"nice":false,"zero":false,"reverse":true},"axis":null}}}
]
}
]
}
